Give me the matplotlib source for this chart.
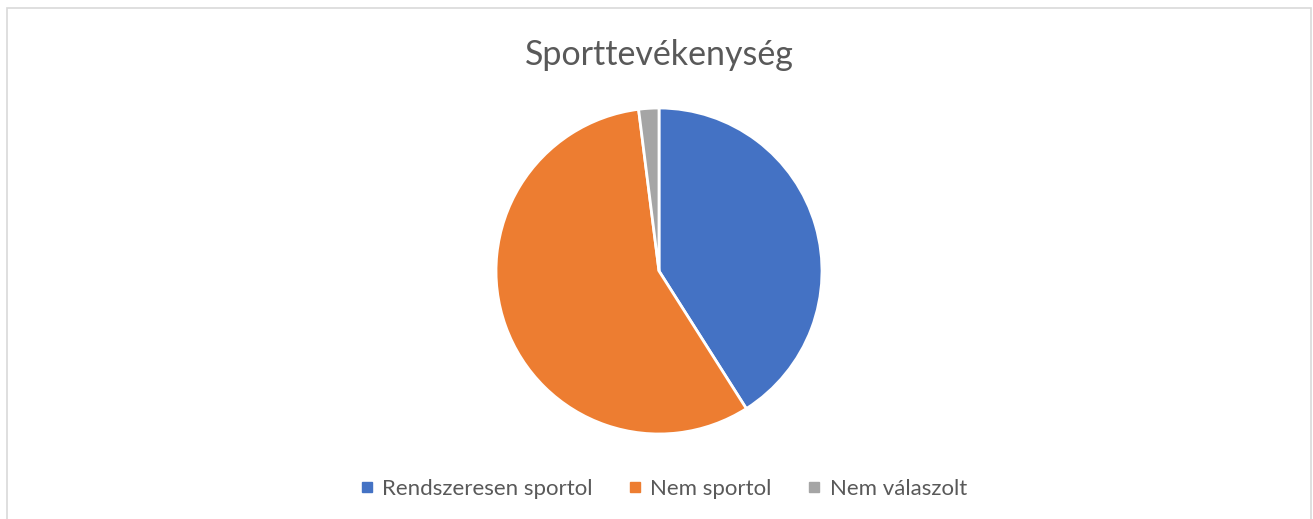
import matplotlib.pyplot as plt
from matplotlib.lines import Line2D
from matplotlib.patches import Rectangle

labels = ['Rendszeresen sportol', 'Nem sportol', 'Nem válaszolt']
values = [41, 57, 2]
colors = ['#4472C4', '#ED7D31', '#A5A5A5']

W, H = 1313, 519
fig = plt.figure(figsize=(W / 100, H / 100), dpi=100)
plt.rcParams['font.family'] = ['Lato', 'DejaVu Sans']

# chart border
fig.add_artist(Rectangle((7 / W, -0.01), (1311 - 7) / W, 1.01 - 8 / H,
                         transform=fig.transFigure, fill=False,
                         edgecolor='#D9D9D9', linewidth=1.2))

cx, cy, r = 659, 271, 163
ax = fig.add_axes([(cx - r) / W, (H - cy - r) / H, 2 * r / W, 2 * r / H])
ax.pie(values, colors=colors, startangle=90, counterclock=False,
       wedgeprops=dict(edgecolor='white', linewidth=2), radius=1.0)
ax.set_xlim(-1, 1)
ax.set_ylim(-1, 1)
ax.set_aspect('equal')

fig.text(cx / W, 1 - 55 / H, 'Sporttevékenység', ha='center', va='center',
         fontsize=24.5, color='#595959')

handles = [Line2D([], [], marker='s', linestyle='', markersize=7,
                  markerfacecolor=c, markeredgecolor=c) for c in colors]
fig.legend(handles, labels, loc='center', bbox_to_anchor=(664 / W, 1 - 489 / H),
           ncol=3, frameon=False, fontsize=16, handlelength=0.5,
           handletextpad=0.45, columnspacing=1.65, labelcolor='#595959')

fig.savefig('out.png', dpi=100)
